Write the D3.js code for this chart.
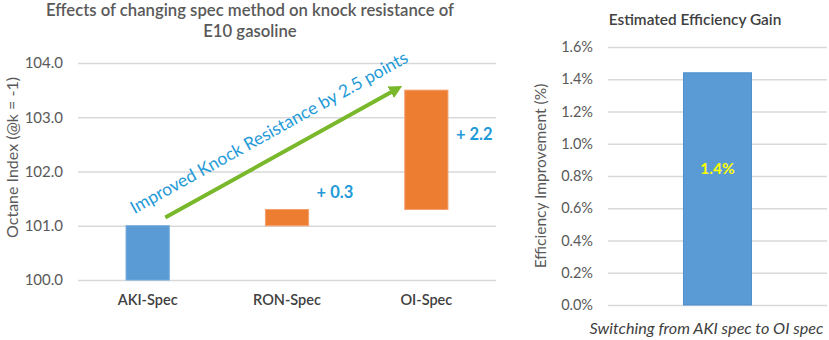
<!DOCTYPE html>
<html>
<head>
<meta charset="utf-8">
<script src="https://cdn.jsdelivr.net/npm/d3@7"></script>
<style>
  body { margin: 0; background: #fff; }
  svg { display: block; font-family: "Lato", "Open Sans", sans-serif; }
</style>
</head>
<body>
<svg id="chart" width="829" height="340"></svg>
<script>
// left chart: waterfall of octane index by spec method
const categories = ["AKI-Spec", "RON-Spec", "OI-Spec"];
const barBase = [100.0, 101.0, 101.3];
const barTop = [101.0, 101.3, 103.5];
const barKind = ["total", "step", "step"];
const deltaLabels = ["", "+ 0.3", "+ 2.2"];
const octaneTicks = [100, 101, 102, 103, 104];
// arrow annotation, in data units (category edge + octane value)
const arrowFrom = { cat: "AKI-Spec", value: 101.15 };
const arrowTo = { cat: "OI-Spec", value: 103.48 };
const arrowText = "Improved Knock Resistance by 2.5 points";

// right chart: estimated efficiency gain
const effCategories = ["Switching from AKI spec to OI spec"];
const effValues = [0.0144];
const effLabels = ["1.4%"];
const effTicks = [0, 0.002, 0.004, 0.006, 0.008, 0.010, 0.012, 0.014, 0.016];

const blue = "#5b9bd5";
const orange = "#ed7d31";
const grid = "#d9d9d9";
const textGray = "#595959";
const annBlue = "#1f9ad8";
const green = "#78b82a";

const svg = d3.select("#chart");

// ---------- left chart ----------
const x = d3.scaleBand().domain(categories).range([78, 496]).paddingInner(0.69).paddingOuter(0.345);
const y = d3.scaleLinear().domain([100, 104]).range([280, 63]);

svg.append("text")
   .attr("x", 250).attr("y", 16)
   .attr("text-anchor", "middle")
   .attr("fill", textGray).attr("font-size", 16.7).attr("font-weight", 600)
   .text("Effects of changing spec method on knock resistance of");
svg.append("text")
   .attr("x", 250).attr("y", 37)
   .attr("text-anchor", "middle")
   .attr("fill", textGray).attr("font-size", 16.7).attr("font-weight", 600)
   .text("E10 gasoline");

// gridlines + tick labels through the axis
const yAxis = svg.append("g")
   .attr("transform", "translate(78,0)")
   .call(d3.axisLeft(y).tickValues(octaneTicks).tickFormat(d3.format(".1f")).tickSize(-418).tickPadding(15));
yAxis.select(".domain").remove();
yAxis.selectAll(".tick line").attr("stroke", grid).attr("stroke-width", 1.3);
yAxis.selectAll(".tick text").attr("fill", textGray).attr("font-size", 15).attr("font-family", "Lato, sans-serif");

const xAxis = svg.append("g")
   .attr("transform", "translate(0,280)")
   .call(d3.axisBottom(x).tickSize(0).tickPadding(15));
xAxis.select(".domain").remove();
xAxis.selectAll(".tick text").attr("fill", "#404040").attr("font-size", 14.5).attr("font-weight", 600)
     .attr("font-family", "Lato, sans-serif");

svg.append("text")
   .attr("transform", `translate(18,${(y(100) + y(104)) / 2 - 14}) rotate(-90)`)
   .attr("text-anchor", "middle")
   .attr("fill", textGray).attr("font-size", 16)
   .text("Octane Index (@k = -1)");

svg.selectAll("rect.wf")
   .data(categories)
   .enter()
   .append("rect")
   .attr("class", "wf")
   .attr("x", d => x(d))
   .attr("width", x.bandwidth())
   .attr("y", (d, i) => y(barTop[i]))
   .attr("height", (d, i) => y(barBase[i]) - y(barTop[i]))
   .attr("fill", (d, i) => barKind[i] === "total" ? blue : orange)
   .attr("stroke", (d, i) => barKind[i] === "total" ? "#6fa8dc" : "#f4a070")
   .attr("stroke-width", 1);

svg.selectAll("text.delta")
   .data(categories)
   .enter()
   .append("text")
   .attr("class", "delta")
   .attr("x", d => x(d) + x.bandwidth() + 8)
   .attr("y", (d, i) => i === 1 ? y(barTop[i]) - 11 : y(barTop[i]) + 50)
   .attr("fill", annBlue).attr("font-size", 16.5).attr("font-weight", 700)
   .text((d, i) => deltaLabels[i]);

// arrow
const defs = svg.append("defs");
defs.append("marker")
    .attr("id", "head")
    .attr("viewBox", "0 0 12 12")
    .attr("refX", 2).attr("refY", 6)
    .attr("markerUnits", "userSpaceOnUse")
    .attr("markerWidth", 13).attr("markerHeight", 13)
    .attr("orient", "auto")
    .append("path")
    .attr("d", "M0,0 L12,6 L0,12 Z")
    .attr("fill", green);

const ax1 = x(arrowFrom.cat) + x.bandwidth() - 4;
const ay1 = y(arrowFrom.value);
const ax2 = x(arrowTo.cat) - 12;
const ay2 = y(arrowTo.value);
svg.append("line")
   .attr("x1", ax1).attr("y1", ay1)
   .attr("x2", ax2).attr("y2", ay2)
   .attr("stroke", green).attr("stroke-width", 4)
   .attr("marker-end", "url(#head)");

const ang = Math.atan2(ay2 - ay1, ax2 - ax1) * 180 / Math.PI;
svg.append("text")
   .attr("transform", `translate(${ax1},${ay1}) rotate(${ang})`)
   .attr("x", 132).attr("y", -18)
   .attr("text-anchor", "middle")
   .attr("fill", annBlue).attr("font-size", 17.5)
   .text(arrowText);

// ---------- right chart ----------
const x2 = d3.scaleBand().domain(effCategories).range([608, 827]).padding(0.526);
const y2 = d3.scaleLinear().domain([0, 0.016]).range([305, 47]);

svg.append("text")
   .attr("x", 695).attr("y", 25)
   .attr("text-anchor", "middle")
   .attr("fill", "#404040").attr("font-size", 15.4).attr("font-weight", 600)
   .text("Estimated Efficiency Gain");

const y2Axis = svg.append("g")
   .attr("transform", "translate(608,0)")
   .call(d3.axisLeft(y2).tickValues(effTicks).tickFormat(d3.format(".1%")).tickSize(-219).tickPadding(15));
y2Axis.select(".domain").remove();
y2Axis.selectAll(".tick line").attr("stroke", grid).attr("stroke-width", 1.3);
y2Axis.selectAll(".tick text").attr("fill", textGray).attr("font-size", 14.5).attr("font-family", "Lato, sans-serif");

const x2Axis = svg.append("g")
   .attr("transform", "translate(0,305)")
   .call(d3.axisBottom(x2).tickSize(0).tickPadding(17));
x2Axis.select(".domain").remove();
x2Axis.selectAll(".tick text").attr("fill", "#404040").attr("font-size", 16.2).attr("font-style", "italic")
      .attr("dx", -11).attr("font-family", "Lato, sans-serif");

svg.append("text")
   .attr("transform", `translate(546,${(y2(0) + y2(0.016)) / 2}) rotate(-90)`)
   .attr("text-anchor", "middle")
   .attr("fill", textGray).attr("font-size", 15.5)
   .text("Efficiency Improvement (%)");

svg.selectAll("rect.eff")
   .data(effCategories)
   .enter()
   .append("rect")
   .attr("class", "eff")
   .attr("x", d => x2(d))
   .attr("width", x2.bandwidth())
   .attr("y", (d, i) => y2(effValues[i]))
   .attr("height", (d, i) => y2(0) - y2(effValues[i]))
   .attr("fill", blue)
   .attr("stroke", "#4f8fcc").attr("stroke-width", 1);

svg.selectAll("text.eff")
   .data(effCategories)
   .enter()
   .append("text")
   .attr("class", "eff")
   .attr("x", d => x2(d) + x2.bandwidth() / 2)
   .attr("y", (d, i) => y2(effValues[i] * 0.59) + 6)
   .attr("text-anchor", "middle")
   .attr("fill", "#ffff00").attr("font-size", 15.5).attr("font-weight", 700)
   .text((d, i) => effLabels[i]);
</script>
</body>
</html>
